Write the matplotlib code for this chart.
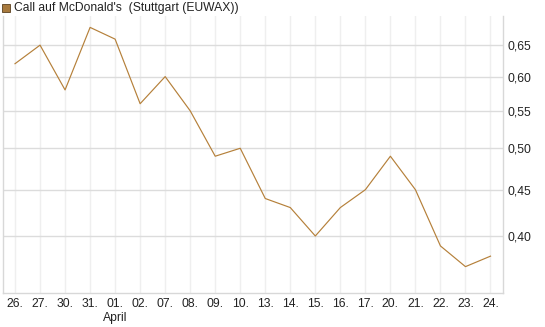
import matplotlib
matplotlib.use('Agg')
import matplotlib.pyplot as plt
from matplotlib.ticker import FixedLocator, NullLocator, FuncFormatter
from matplotlib.patches import Rectangle

# Data
dates = ['26.', '27.', '30.', '31.', '01.', '02.', '07.', '08.', '09.', '10.',
         '13.', '14.', '15.', '16.', '17.', '20.', '21.', '22.', '23.', '24.']
prices = [0.62, 0.65, 0.58, 0.68, 0.66, 0.56, 0.60, 0.55, 0.49, 0.50,
          0.44, 0.43, 0.40, 0.43, 0.45, 0.49, 0.45, 0.39, 0.37, 0.38]
y_ticks = [0.40, 0.45, 0.50, 0.55, 0.60, 0.65]
month_idx = 4
month_name = 'April'
title = "Call auf McDonald's  (Stuttgart (EUWAX))"

plt.rcParams['font.family'] = ['Liberation Sans', 'DejaVu Sans']
fs = 8.7

W, H = 545, 327
fig = plt.figure(figsize=(W / 100, H / 100), dpi=100)
ax = fig.add_axes([2.5 / W, 34 / H, 500.5 / W, 277 / H])

line_color = '#b5803a'
x = list(range(len(prices)))
ax.plot(x, prices, color=line_color, lw=0.85, zorder=3)

# log scale y axis, labels on the right
ax.set_yscale('log')
ax.set_ylim(0.346, 0.70)
ax.set_xlim(-0.5, len(prices) - 0.5)
ax.yaxis.set_major_locator(FixedLocator(y_ticks))
ax.yaxis.set_minor_locator(NullLocator())
ax.yaxis.set_major_formatter(FuncFormatter(lambda v, p: f'{v:.2f}'.replace('.', ',')))
ax.yaxis.tick_right()

labels = list(dates)
labels[month_idx] = labels[month_idx] + '\n' + month_name
ax.set_xticks(x)
ax.set_xticklabels(labels, linespacing=1.2)

ax.tick_params(axis='both', length=0, labelsize=fs, colors='#222222')
ax.tick_params(axis='y', pad=3.5)
ax.tick_params(axis='x', pad=3.5)

# grid
for v in y_ticks:
    ax.axhline(v, color='#dcdcdc', lw=1, zorder=1)
for xi in x:
    ax.axvline(xi, color='#efefef', lw=1, zorder=0)

for s in ['left', 'bottom', 'right']:
    ax.spines[s].set_color('#d8d8d8')
    ax.spines[s].set_linewidth(1)
ax.spines['top'].set_visible(False)

# legend header
fig.patches.append(Rectangle((2 / W, 1 - 12 / H), 8 / W, 8 / H, transform=fig.transFigure,
                             facecolor='#a87a3e', edgecolor='#5a4020', lw=0.6))
fig.text(14 / W, 1 - 7.5 / H, title, fontsize=fs, va='center', ha='left', color='#222222')

fig.savefig('out.png', dpi=100)
